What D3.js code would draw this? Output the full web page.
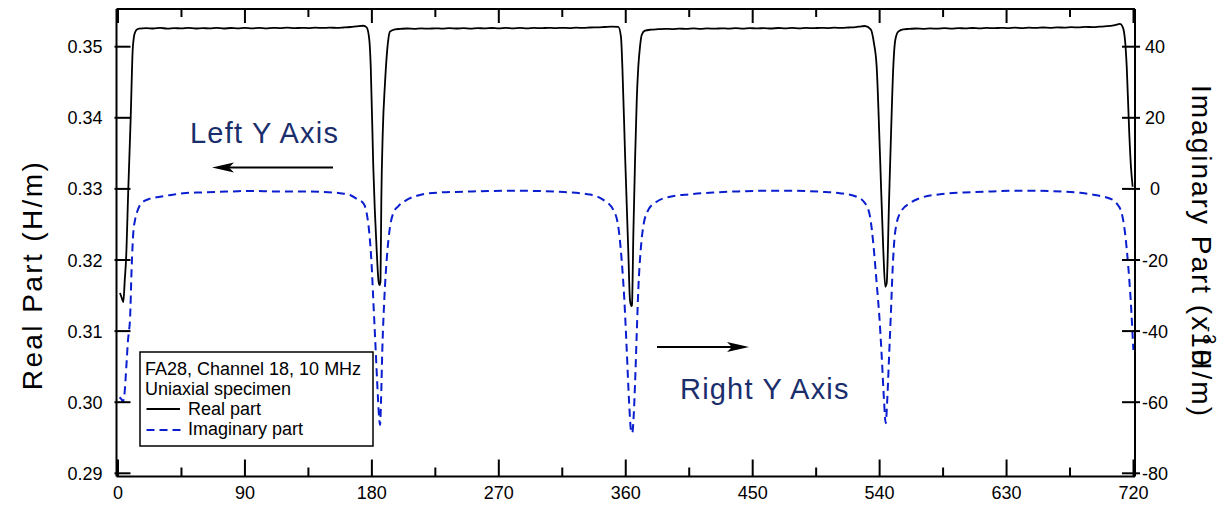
<!DOCTYPE html>
<html>
<head>
<meta charset="utf-8">
<script src="https://cdn.jsdelivr.net/npm/d3@7/dist/d3.min.js"></script>
<style>
  html, body { margin: 0; padding: 0; background: #fff; }
  svg { display: block; font-family: "Liberation Sans", Arial, sans-serif; }
</style>
</head>
<body>
<svg id="chart" width="1230" height="505"></svg>
<script>
// Angle ticks (degrees) and axis tick values
const angleMajorTicks = [0, 90, 180, 270, 360, 450, 540, 630, 720];
const angleMinorTicks = [45, 135, 225, 315, 405, 495, 585, 675];
const realTicks = [0.29, 0.30, 0.31, 0.32, 0.33, 0.34, 0.35];
const imagTicks = [-80, -60, -40, -20, 0, 20, 40];

// Real part (H/m) vs angle
const realAngle = [
  1.4, 2.6, 3.8, 4.8, 5.7, 7.3, 9.0, 10.4, 11.3, 12.3, 13.3,
  15, 20, 25, 30, 35, 40, 45, 50, 55, 60, 65, 70, 75, 80, 85, 90, 95, 100, 105, 110,
  115, 120, 125, 130, 135, 140, 145, 150, 155, 160, 165, 169,
  173.9, 176.3, 178.2, 179.2, 181.0, 183.4, 184.8, 185.5, 186.1, 186.7, 187.7, 189.3, 191.6, 192.8, 196.4,
  200, 205, 210, 215, 220, 225, 230, 235, 240, 245, 250, 255, 260, 265, 270, 275, 280, 285,
  290, 295, 300, 305, 310, 315, 320, 325, 330, 335, 340, 345, 350,
  354.7, 356.6, 357.6, 359.5, 361.8, 363.0, 363.9, 364.4, 365.4, 366.6, 367.8, 368.9, 370.1, 371.3, 373.6, 378,
  383, 388, 393, 398, 403, 408, 413, 418, 423, 428, 433, 438, 443, 448, 453, 458, 463, 468,
  473, 478, 483, 488, 493, 498, 503, 508, 513, 518, 523, 527,
  529.6, 533.7, 536.0, 537.9, 540.3, 542.6, 544.0, 545.0, 546.7, 548.1, 549.7, 551.1, 553.2, 556.8,
  561, 566, 571, 576, 581, 586, 591, 596, 601, 606, 611, 616, 621, 626, 631, 636, 641, 646,
  651, 656, 661, 666, 671, 676, 681, 686, 691, 696, 701,
  706.9, 710.4, 712.3, 714.0, 715.2, 717.0, 718.2, 719.4
];
const realValue = [
  0.31535, 0.31470, 0.31409, 0.31720, 0.32000, 0.33000, 0.34000, 0.34950, 0.35140, 0.35210, 0.35240,
  0.35255, 0.35262, 0.35256, 0.35265, 0.35254, 0.35262, 0.35257, 0.35266, 0.35256, 0.35262, 0.35257, 0.35264, 0.35256, 0.35263, 0.35258, 0.35266, 0.35258, 0.35264, 0.35257, 0.35266,
  0.35261, 0.35268, 0.35260, 0.35266, 0.35262, 0.35268, 0.35264, 0.35268, 0.35265, 0.35270, 0.35277, 0.35286,
  0.35295, 0.35273, 0.35094, 0.34719, 0.33312, 0.32141, 0.31690, 0.31648, 0.31700, 0.32844, 0.33782, 0.34485, 0.35094, 0.35211, 0.35245,
  0.35250, 0.35256, 0.35252, 0.35258, 0.35253, 0.35259, 0.35254, 0.35260, 0.35256, 0.35261, 0.35255, 0.35262, 0.35257, 0.35263, 0.35258, 0.35264, 0.35259, 0.35264,
  0.35258, 0.35265, 0.35260, 0.35266, 0.35261, 0.35266, 0.35262, 0.35268, 0.35264, 0.35270, 0.35272, 0.35277, 0.35282,
  0.35280, 0.35141, 0.34719, 0.33491, 0.32122, 0.31437, 0.31353, 0.31366, 0.32375, 0.33407, 0.34250, 0.34719, 0.35000, 0.35165, 0.35225, 0.35240,
  0.35246, 0.35252, 0.35248, 0.35255, 0.35250, 0.35257, 0.35252, 0.35258, 0.35253, 0.35259, 0.35254, 0.35260, 0.35255, 0.35262, 0.35257, 0.35262, 0.35256, 0.35263,
  0.35258, 0.35264, 0.35259, 0.35265, 0.35260, 0.35266, 0.35262, 0.35267, 0.35264, 0.35270, 0.35276, 0.35286,
  0.35291, 0.35245, 0.35048, 0.34719, 0.33453, 0.32141, 0.31624, 0.31672, 0.32844, 0.33782, 0.34719, 0.35094, 0.35211, 0.35245,
  0.35250, 0.35256, 0.35252, 0.35258, 0.35253, 0.35260, 0.35255, 0.35262, 0.35257, 0.35263, 0.35258, 0.35265, 0.35260, 0.35266, 0.35261, 0.35267, 0.35262, 0.35268,
  0.35264, 0.35270, 0.35266, 0.35272, 0.35268, 0.35274, 0.35272, 0.35278, 0.35276, 0.35282, 0.35288,
  0.35305, 0.35320, 0.35280, 0.35090, 0.34720, 0.33780, 0.33310, 0.33030
];

// Imaginary part (x10^-3 H/m) vs angle
const imagAngle = [
  1.1, 2.5, 3.5, 4.5, 5.3, 6.2, 7.1, 7.9, 8.5, 9.7, 10.8, 12.1, 13.3, 14.9, 16.8, 21.5, 29.8, 37.6,
  46.3, 58.1, 70, 81.5, 93.6, 105.4, 117.2, 129, 143.2, 157.4, 164.5, 170.4, 173.9, 176.3,
  178.2, 179.9, 181.0, 182.7, 183.8, 185.1, 185.8, 186.5, 187.4, 188.8, 190.5, 192.9, 195.2, 198.7,
  204.7, 214.1, 228.3, 245, 262, 280, 298, 316, 334.6, 344.1, 351.2, 354.7, 357.1, 359.0, 360.7,
  362.3, 363.7, 364.6, 365.6, 366.6, 367.8, 368.9, 370.6, 372.4, 376.0, 381.9, 391.4, 405.5,
  422, 440, 460, 480, 498, 511.9, 523.7, 529.6, 533.2, 535.5, 537.9, 539.8, 541.5, 543.1, 544.3,
  545.4, 546.7, 547.9, 549.3, 550.9, 554.5, 561.5, 568.6, 582.8, 600, 620, 640, 660, 682.1, 694,
  705.5, 708.3, 711.6, 714.0, 716.3, 718.0, 719.9
];
const imagValue = [
  -58.6, -59.2, -59.8, -58.1, -53.9, -48.1, -42.5, -39.7, -36.9, -21.9, -12.5, -8.7, -6.8, -5.1, -4.0, -2.9, -2.2, -1.7,
  -1.2, -1.0, -0.84, -0.7, -0.56, -0.65, -0.76, -0.7, -0.84, -1.2, -1.7, -3.1, -4.0, -6.8,
  -12.5, -21.9, -31.2, -45.3, -54.7, -64.1, -66.4, -59.4, -45.3, -31.2, -20.0, -10.6, -6.8, -4.9,
  -3.1, -1.7, -1.0, -0.8, -0.6, -0.5, -0.6, -0.9, -1.6, -3.1, -5.9, -10.6, -20.0, -31.2, -45.3,
  -59.4, -67.8, -68.7, -64.1, -54.7, -40.6, -28.4, -17.2, -10.6, -5.9, -3.6, -2.2, -1.5,
  -1.0, -0.7, -0.5, -0.5, -0.8, -1.2, -2.2, -4.0, -7.8, -15.3, -26.5, -35.9, -47.2, -59.4, -65.9,
  -59.4, -47.2, -35.9, -21.9, -12.5, -6.8, -4.0, -2.6, -1.5, -1.0, -0.7, -0.5, -0.6, -1.1, -1.8,
  -3.1, -4.2, -6.8, -12.4, -21.9, -31.2, -45.3
];

const svg = d3.select("#chart");
const frame = { left: 116.5, right: 1135, top: 9, bottom: 476.5 };

const x = d3.scaleLinear().domain([0, 720]).range([118, 1133.5]);
const yL = d3.scaleLinear().domain([0.29, 0.35]).range([473.3, 46.7]);
const yR = d3.scaleLinear().domain([-80, 40]).range([473.3, 46.7]);

const ink = "#000";
const blue = "#0a1ecf";
const navy = "#1b2e6c";

// Data curves
const realPts = realAngle.map((a, i) => [a, realValue[i]]);
const imagPts = imagAngle.map((a, i) => [a, imagValue[i]]);

svg.append("path")
  .datum(imagPts)
  .attr("fill", "none")
  .attr("stroke", blue)
  .attr("stroke-width", 2)
  .attr("stroke-dasharray", "8,5")
  .attr("d", d3.line().x(d => x(d[0])).y(d => yR(d[1])).curve(d3.curveMonotoneX));

svg.append("path")
  .datum(realPts)
  .attr("fill", "none")
  .attr("stroke", ink)
  .attr("stroke-width", 1.8)
  .attr("stroke-linejoin", "round")
  .attr("d", d3.line().x(d => x(d[0])).y(d => yL(d[1])).curve(d3.curveMonotoneX));

// Frame
const axes = svg.append("g").attr("stroke", ink).attr("stroke-width", 2);
axes.append("line").attr("x1", frame.left).attr("x2", frame.right).attr("y1", frame.top).attr("y2", frame.top);
axes.append("line").attr("x1", frame.left).attr("x2", frame.right).attr("y1", frame.bottom).attr("y2", frame.bottom);
axes.append("line").attr("x1", frame.left).attr("x2", frame.left).attr("y1", frame.top).attr("y2", frame.bottom);
axes.append("line").attr("x1", frame.right).attr("x2", frame.right).attr("y1", frame.top).attr("y2", frame.bottom);

// Angle ticks, top and bottom, pointing inward
angleMajorTicks.forEach(t => {
  axes.append("line").attr("x1", x(t)).attr("x2", x(t)).attr("y1", frame.top).attr("y2", frame.top + 14);
  axes.append("line").attr("x1", x(t)).attr("x2", x(t)).attr("y1", frame.bottom).attr("y2", frame.bottom - 17);
});
angleMinorTicks.forEach(t => {
  axes.append("line").attr("x1", x(t)).attr("x2", x(t)).attr("y1", frame.top).attr("y2", frame.top + 8);
  axes.append("line").attr("x1", x(t)).attr("x2", x(t)).attr("y1", frame.bottom).attr("y2", frame.bottom - 9);
});
// Left and right value ticks
realTicks.forEach(t => {
  axes.append("line").attr("x1", frame.left - 2).attr("x2", frame.left + 14).attr("y1", yL(t)).attr("y2", yL(t));
});
imagTicks.forEach(t => {
  axes.append("line").attr("x1", frame.right - 13).attr("x2", frame.right + 5).attr("y1", yR(t)).attr("y2", yR(t));
});

// Tick labels
const labels = svg.append("g").attr("font-size", 18).attr("fill", ink).attr("text-anchor", "middle");
angleMajorTicks.forEach(t => {
  labels.append("text").attr("x", x(t)).attr("y", 499).text(t);
});
realTicks.forEach(t => {
  labels.append("text").attr("x", 85).attr("y", yL(t) + 6.5).text(d3.format(".2f")(t));
});
imagTicks.forEach(t => {
  labels.append("text").attr("x", 1155).attr("y", yR(t) + 6.5).text(t);
});

// Axis titles
svg.append("text")
  .attr("transform", "translate(41.7,275) rotate(-90)")
  .attr("text-anchor", "middle")
  .attr("font-size", 28)
  .attr("letter-spacing", 2.4)
  .attr("fill", ink)
  .text("Real Part (H/m)");

const rt = svg.append("text")
  .attr("transform", "translate(1191.7,85) rotate(90)")
  .attr("font-size", 28)
  .attr("letter-spacing", 2)
  .attr("fill", ink);
rt.append("tspan").text("Imaginary Part (x10");
rt.append("tspan").attr("font-size", 18).attr("dx", -41).attr("dy", -11).text("-3");
rt.append("tspan").attr("dx", 3).attr("dy", 11).text("H/m)");

// Annotations
svg.append("text")
  .attr("x", 190).attr("y", 143)
  .attr("font-size", 29).attr("letter-spacing", 1.2).attr("fill", navy)
  .text("Left Y Axis");
svg.append("text")
  .attr("x", 680).attr("y", 399)
  .attr("font-size", 29).attr("letter-spacing", 1.2).attr("fill", navy)
  .text("Right Y Axis");

function arrow(x1, x2, y) {
  const dir = Math.sign(x2 - x1);
  svg.append("line")
    .attr("x1", x1).attr("x2", x2 - dir * 16).attr("y1", y).attr("y2", y)
    .attr("stroke", ink).attr("stroke-width", 2);
  svg.append("path")
    .attr("d", `M${x2},${y} L${x2 - dir * 22},${y - 5} L${x2 - dir * 17},${y} L${x2 - dir * 22},${y + 5} Z`)
    .attr("fill", ink);
}
arrow(333, 212, 167.5);
arrow(657, 749, 347);

// Legend
const lg = svg.append("g");
lg.append("rect")
  .attr("x", 140).attr("y", 352).attr("width", 233).attr("height", 94)
  .attr("fill", "#fff").attr("stroke", ink).attr("stroke-width", 1.5);
const lgText = lg.append("g").attr("font-size", 18).attr("fill", ink);
lgText.append("text").attr("x", 145).attr("y", 375).text("FA28, Channel 18, 10 MHz");
lgText.append("text").attr("x", 145).attr("y", 395).text("Uniaxial specimen");
lgText.append("text").attr("x", 188).attr("y", 414.5).text("Real part");
lgText.append("text").attr("x", 188).attr("y", 435).text("Imaginary part");
lg.append("line").attr("x1", 146.5).attr("x2", 180).attr("y1", 409).attr("y2", 409)
  .attr("stroke", ink).attr("stroke-width", 1.8);
lg.append("line").attr("x1", 146.5).attr("x2", 181).attr("y1", 430).attr("y2", 430)
  .attr("stroke", blue).attr("stroke-width", 2).attr("stroke-dasharray", "8,5");
</script>
</body>
</html>
